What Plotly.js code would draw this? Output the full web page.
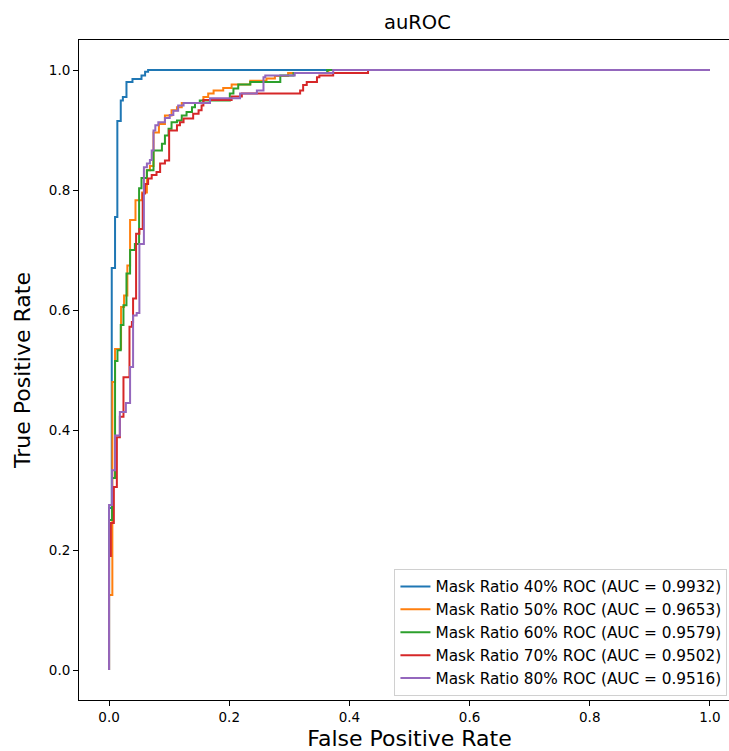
<!DOCTYPE html>
<html>
<head>
<meta charset="utf-8">
<script src="https://cdn.plot.ly/plotly-3.0.1.min.js"></script>
<style>
html,body{margin:0;padding:0;overflow:hidden;background:#fff;}
#chart{width:745px;height:751px;}
</style>
</head>
<body>
<div id="chart"></div>
<script>
// ROC data (fpr, tpr)
const names = [
  "Mask Ratio 40% ROC (AUC = 0.9932)",
  "Mask Ratio 50% ROC (AUC = 0.9653)",
  "Mask Ratio 60% ROC (AUC = 0.9579)",
  "Mask Ratio 70% ROC (AUC = 0.9502)",
  "Mask Ratio 80% ROC (AUC = 0.9516)"
];
const colors = ["#1f77b4", "#ff7f0e", "#2ca02c", "#d62728", "#9467bd"];

const fpr40 = [0, 0, 0.0045, 0.01, 0.0138, 0.0195, 0.023, 0.029, 0.039, 0.054, 0.06, 0.065, 1.0];
const tpr40 = [0, 0.27, 0.67, 0.755, 0.915, 0.949, 0.955, 0.980, 0.985, 0.991, 0.997, 1.0, 1.0];

const fpr50 = [0, 0, 0.0055, 0.01, 0.02, 0.025, 0.0305, 0.035, 0.044, 0.055, 0.063, 0.068, 0.074, 0.083, 0.093, 0.104, 0.113, 0.121, 0.157, 0.165, 0.174, 0.190, 0.204, 0.235, 0.262, 0.276, 0.298, 0.365, 1.0];
const tpr50 = [0, 0.125, 0.48, 0.535, 0.605, 0.624, 0.674, 0.75, 0.783, 0.796, 0.833, 0.84, 0.896, 0.91, 0.924, 0.933, 0.938, 0.945, 0.955, 0.961, 0.966, 0.970, 0.976, 0.982, 0.986, 0.99, 0.995, 1.0, 1.0];

const fpr60 = [0, 0, 0.005, 0.01, 0.014, 0.0195, 0.024, 0.029, 0.035, 0.043, 0.050, 0.054, 0.063, 0.074, 0.088, 0.093, 0.099, 0.104, 0.113, 0.121, 0.129, 0.138, 0.143, 0.151, 0.201, 0.207, 0.215, 0.235, 0.285, 0.307, 0.363, 1.0];
const tpr60 = [0, 0.25, 0.32, 0.515, 0.533, 0.575, 0.608, 0.661, 0.70, 0.71, 0.803, 0.82, 0.833, 0.866, 0.877, 0.891, 0.902, 0.913, 0.916, 0.924, 0.93, 0.938, 0.945, 0.949, 0.961, 0.969, 0.976, 0.98, 0.991, 0.995, 1.0, 1.0];

const fpr70 = [0, 0, 0.003, 0.008, 0.013, 0.018, 0.024, 0.034, 0.038, 0.040, 0.045, 0.0505, 0.056, 0.060, 0.065, 0.071, 0.079, 0.085, 0.093, 0.100, 0.113, 0.118, 0.124, 0.140, 0.149, 0.154, 0.157, 0.204, 0.221, 0.318, 0.323, 0.329, 0.346, 0.350, 0.373, 0.431, 1.0];
const tpr70 = [0, 0.19, 0.245, 0.305, 0.388, 0.422, 0.488, 0.572, 0.58, 0.619, 0.727, 0.735, 0.794, 0.81, 0.819, 0.825, 0.83, 0.844, 0.849, 0.899, 0.908, 0.913, 0.919, 0.927, 0.933, 0.941, 0.95, 0.956, 0.961, 0.966, 0.975, 0.98, 0.988, 0.991, 0.995, 1.0, 1.0];

const fpr80 = [0, 0, 0.005, 0.01, 0.018, 0.028, 0.035, 0.040, 0.046, 0.0505, 0.058, 0.063, 0.068, 0.071, 0.074, 0.077, 0.082, 0.093, 0.101, 0.107, 0.115, 0.124, 0.168, 0.218, 0.246, 0.257, 0.260, 0.309, 0.373, 1.0];
const tpr80 = [0, 0.275, 0.333, 0.391, 0.43, 0.445, 0.505, 0.591, 0.595, 0.71, 0.838, 0.844, 0.85, 0.866, 0.899, 0.908, 0.913, 0.92, 0.925, 0.932, 0.941, 0.945, 0.953, 0.961, 0.966, 0.988, 0.991, 0.995, 1.0, 1.0];

const tickVals = [0, 0.2, 0.4, 0.6, 0.8, 1.0];
const tickText = ["0.0", "0.2", "0.4", "0.6", "0.8", "1.0"];

const fprs = [fpr40, fpr50, fpr60, fpr70, fpr80];
const tprs = [tpr40, tpr50, tpr60, tpr70, tpr80];

const traces = fprs.map((f, i) => ({
  x: f, y: tprs[i], type: "scatter", mode: "lines", name: names[i],
  line: {color: colors[i], width: 2, shape: "hv"}
}));

const axisBase = {
  range: [-0.05, 1.05], tickvals: tickVals, ticktext: tickText,
  ticks: "outside", ticklen: 5, tickwidth: 1, tickcolor: "#000",
  showline: true, linecolor: "#000", linewidth: 1, mirror: true,
  showgrid: false, zeroline: false,
  tickfont: {size: 13.5, color: "#000"}
};

const layout = {
  width: 745, height: 751,
  margin: {l: 79, r: 5, t: 40, b: 51},
  paper_bgcolor: "#fff", plot_bgcolor: "#fff",
  font: {family: "DejaVu Sans", color: "#000"},
  title: {text: "auROC", font: {size: 19.5, color: "#000"}, x: 0.512, xref: "paper", xanchor: "center", y: 1 - 22/751, yref: "container", yanchor: "middle"},
  xaxis: Object.assign({}, axisBase, {title: {text: "False Positive Rate", font: {size: 22}, standoff: 6}}),
  yaxis: Object.assign({}, axisBase, {title: {text: "True Positive Rate", font: {size: 22}, standoff: 12}}),
  showlegend: true,
  legend: {x: 0.981, xanchor: "right", y: 0.006, yanchor: "bottom",
    bgcolor: "rgba(255,255,255,0.8)", bordercolor: "#d0d0d0", borderwidth: 1,
    font: {size: 15.3, color: "#000"}}
};

Plotly.newPlot("chart", traces, layout, {displayModeBar: false, staticPlot: true});
</script>
</body>
</html>
